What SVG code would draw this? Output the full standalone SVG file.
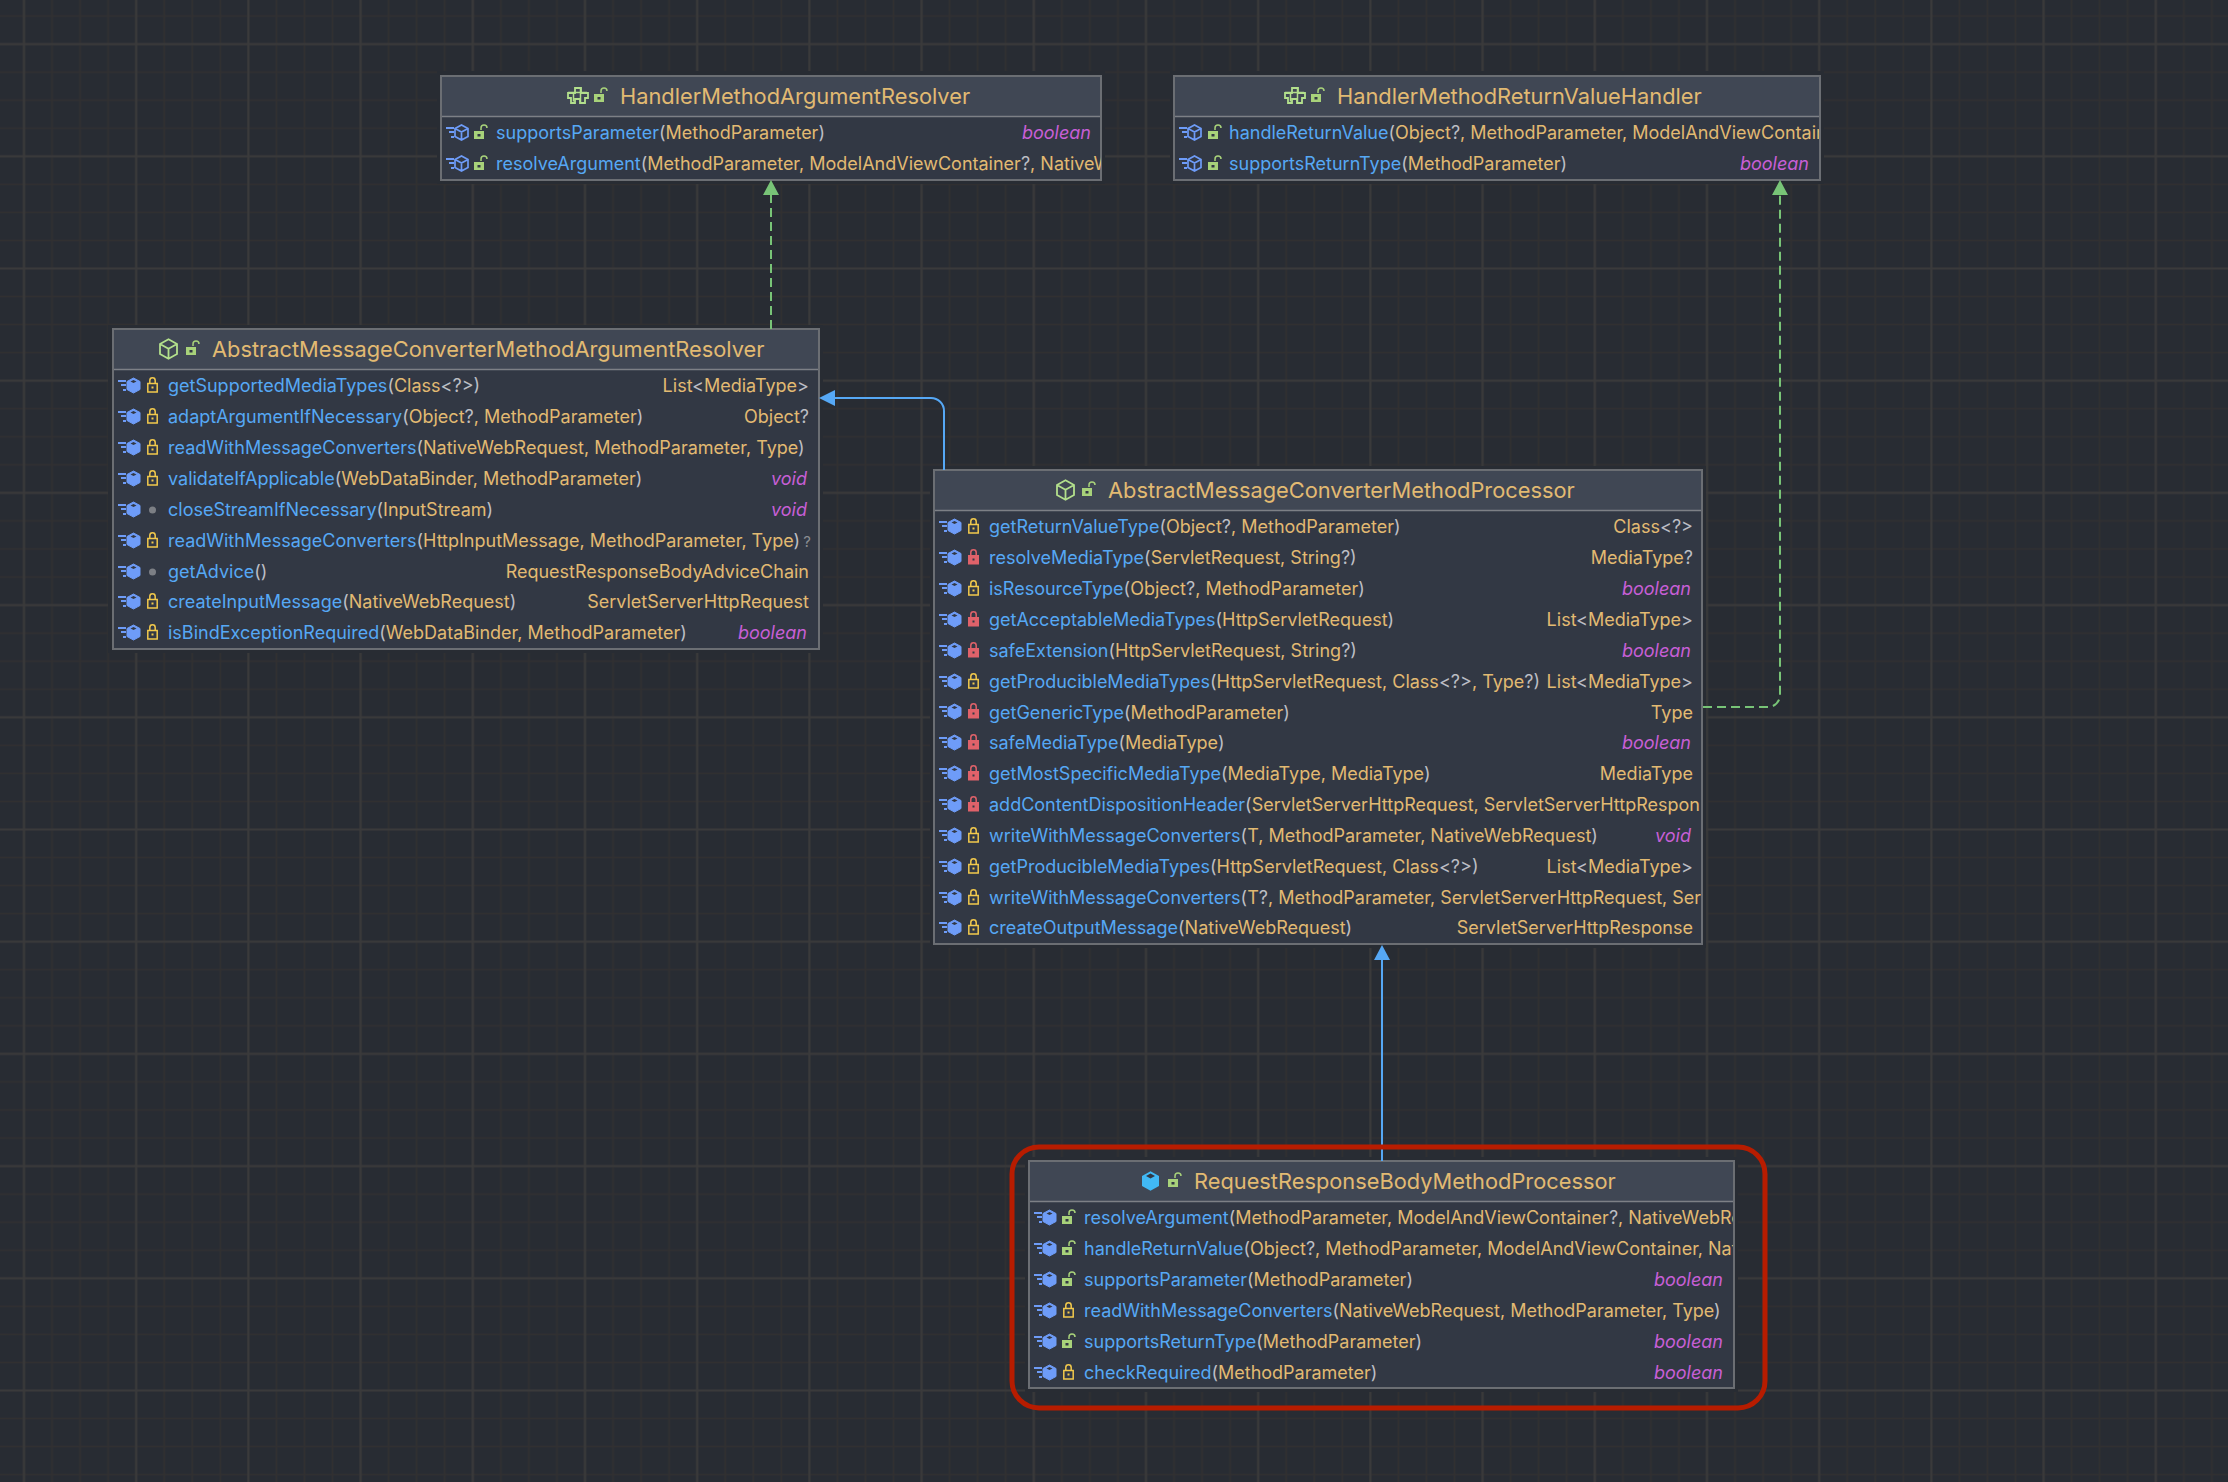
<svg xmlns="http://www.w3.org/2000/svg" width="2228" height="1482" viewBox="0 0 2228 1482">
<style>
text{font-family:Inter,"Noto Sans","Liberation Sans",sans-serif;white-space:pre}
.r{font-size:18px;fill:#e2ba72}
.ti{font-size:21.8px;fill:#e2ba72}
.m{fill:#56a8f5}
.p{fill:#bcbec4}
.e{text-anchor:end}
.b{fill:#c75fd6;font-style:italic}
.hd{fill:#404754}
.bd{fill:#323844}
.ln{fill:none;stroke:#6b6e73;stroke-width:2}
.sp{stroke:#7d8086;stroke-width:1.5}
.halo{fill:#282c33}
.conb{fill:none;stroke:#56a8f5;stroke-width:2}
.cong{fill:none;stroke:#78c477;stroke-width:2;stroke-dasharray:9 5}
</style>
<defs>
<pattern id="minor" width="28.05" height="28.05" patternUnits="userSpaceOnUse" x="10" y="2"><path d="M14 0V28.05M0 14H28.05" stroke="#313031" stroke-width="1.6" fill="none"/></pattern>
<pattern id="major" width="112.2" height="112.2" patternUnits="userSpaceOnUse" x="-32" y="-12"><path d="M56 0V112.2M0 56H112.2" stroke="#3a3a3b" stroke-width="2" fill="none"/></pattern>
<g id="lines"><path d="M0-5h8M3-1h5M5 4h3" stroke="#6e9cf8" stroke-width="2" fill="none"/></g>
<g id="mf"><use href="#lines"/><path d="M9-4.500l6.500-3.500 6.500 3.500v8l-6.500 3.500-6.500-3.500z" fill="#6e9cf8" stroke="#6e9cf8"/><path d="M12.500-4.500l3-1.600 3 1.600-3 1.600z" fill="#323844"/></g>
<g id="mh"><use href="#lines"/><path d="M9-4.500l6.500-3.500 6.500 3.500v8l-6.500 3.500-6.500-3.500zM9-4.500l6.500 3.500 6.500-3.500M15.500-1v8" fill="none" stroke="#6e9cf8" stroke-width="1.700"/></g>
<g id="lo"><rect x="0" y="-2" width="10" height="8" fill="#a8d27a"/><rect x="3.500" y="1" width="3" height="2.500" fill="#323844"/><path d="M7-3v-2a3 3 0 0 1 6 0" fill="none" stroke="#a8d27a" stroke-width="1.500"/></g>
<g id="ly"><rect x="0.800" y="-2.500" width="9.400" height="8.500" fill="none" stroke="#f2c94c" stroke-width="1.500"/><rect x="4.500" y="0.500" width="2" height="2" fill="#f2c94c"/><path d="M2.800-2.500v-3a2.700 2.700 0 0 1 5.400 0v3" fill="none" stroke="#f2c94c" stroke-width="1.500"/></g>
<g id="lr"><rect x="0" y="-3" width="11" height="9.500" fill="#e0626a"/><rect x="4.500" y="0.500" width="2" height="2" fill="#323844"/><path d="M2.800-3v-2.500a2.700 2.700 0 0 1 5.400 0v2.500" fill="none" stroke="#e0626a" stroke-width="1.500"/></g>
<circle id="ld" cx="5.500" cy="0" r="3.500" fill="#7c7f85"/>
<g id="tif"><path d="M7-9h6v5h7v5h-3v5h-5v-4h-5v4h-4v-5h-3v-5h7z" fill="none" stroke="#b3e08c" stroke-width="1.800" transform="translate(1 1)"/><path d="M1-3.500h19M6.500-3.500v9M13.500-8v14" stroke="#b3e08c" stroke-width="1.500" fill="none"/></g>
<g id="tc"><path d="M0-5l8.500-4.800 8.500 4.800v10l-8.500 4.800-8.500-4.800zM0-5l8.500 4.800 8.500-4.800M8.500-.2v10" fill="none" stroke="#b3e08c" stroke-width="1.800"/></g>
<g id="tcf"><path d="M0-5l8.500-4.800 8.500 4.800v10l-8.500 4.800-8.500-4.800z" fill="#41b9f5"/><path d="M4-5l4.500-2.500 4.500 2.500-4.500 2.500z" fill="#323844"/></g>
<clipPath id="c1"><rect x="441" y="117" width="660" height="63"/></clipPath>
<clipPath id="c2"><rect x="1175" y="117" width="644" height="63"/></clipPath>
<clipPath id="c3"><rect x="113" y="370" width="705" height="278"/></clipPath>
<clipPath id="c4"><rect x="935" y="511" width="766" height="432"/></clipPath>
<clipPath id="c5"><rect x="1030" y="1202" width="703" height="185"/></clipPath>
</defs>
<rect width="2228" height="1482" fill="#282c33"/>
<rect width="2228" height="1482" fill="url(#minor)"/>
<rect width="2228" height="1482" fill="url(#major)"/>

<g id="HandlerMethodArgumentResolver">
<rect class="halo" x="437" y="71" width="668" height="113"/>
<rect class="bd" x="441" y="76" width="660" height="104"/>
<rect class="hd" x="441" y="76" width="660" height="40"/>
<path class="sp" d="M441 116.500H1101"/>
<rect class="ln" x="441" y="76" width="660" height="104"/>
<use href="#tif" x="567" y="96"/><use href="#lo" x="594" y="96"/>
<text class="ti" x="620" y="104">HandlerMethodArgumentResolver</text>
<g clip-path="url(#c1)">
<use href="#mh" x="446" y="133"/><use href="#lo" x="474" y="133"/>
<text class="r" x="496" y="139"><tspan class="m">supportsParameter</tspan><tspan class="p">(</tspan>MethodParameter<tspan class="p">)</tspan></text>
<text class="r b e" x="1091" y="139">boolean</text>
<use href="#mh" x="446" y="164"/><use href="#lo" x="474" y="164"/>
<text class="r" x="496" y="170"><tspan class="m">resolveArgument</tspan><tspan class="p">(</tspan>MethodParameter, ModelAndViewContainer<tspan class="p">?</tspan>, NativeW</text>
</g>
</g>

<g id="HandlerMethodReturnValueHandler">
<rect class="halo" x="1170" y="71" width="654" height="113"/>
<rect class="bd" x="1174" y="76" width="646" height="104"/>
<rect class="hd" x="1174" y="76" width="646" height="40"/>
<path class="sp" d="M1174 116.500H1820"/>
<rect class="ln" x="1174" y="76" width="646" height="104"/>
<use href="#tif" x="1284" y="96"/><use href="#lo" x="1311" y="96"/>
<text class="ti" x="1337" y="104">HandlerMethodReturnValueHandler</text>
<g clip-path="url(#c2)">
<use href="#mh" x="1179" y="133"/><use href="#lo" x="1208" y="133"/>
<text class="r" x="1229" y="139"><tspan class="m">handleReturnValue</tspan><tspan class="p">(</tspan>Object<tspan class="p">?</tspan>, MethodParameter, ModelAndViewContain</text>
<use href="#mh" x="1179" y="164"/><use href="#lo" x="1208" y="164"/>
<text class="r" x="1229" y="170"><tspan class="m">supportsReturnType</tspan><tspan class="p">(</tspan>MethodParameter<tspan class="p">)</tspan></text>
<text class="r b e" x="1809" y="170">boolean</text>
</g>
</g>

<g id="AbstractMessageConverterMethodArgumentResolver">
<rect class="halo" x="108" y="325" width="715" height="328"/>
<rect class="bd" x="113" y="329" width="706" height="320"/>
<rect class="hd" x="113" y="329" width="706" height="40"/>
<path class="sp" d="M113 369.500H819"/>
<rect class="ln" x="113" y="329" width="706" height="320"/>
<use href="#tc" x="160" y="349"/><use href="#lo" x="186" y="349"/>
<text class="ti" x="212" y="357">AbstractMessageConverterMethodArgumentResolver</text>
<g clip-path="url(#c3)">
<use href="#mf" x="118" y="386"/><use href="#ly" x="147" y="386"/>
<text class="r" x="168" y="392"><tspan class="m">getSupportedMediaTypes</tspan><tspan class="p">(</tspan>Class<tspan class="p">&lt;?&gt;)</tspan></text>
<text class="r e" x="809" y="392">List<tspan class="p">&lt;</tspan>MediaType<tspan class="p">&gt;</tspan></text>
<use href="#mf" x="118" y="417"/><use href="#ly" x="147" y="417"/>
<text class="r" x="168" y="423"><tspan class="m">adaptArgumentIfNecessary</tspan><tspan class="p">(</tspan>Object<tspan class="p">?</tspan>, MethodParameter<tspan class="p">)</tspan></text>
<text class="r e" x="809" y="423">Object<tspan class="p">?</tspan></text>
<use href="#mf" x="118" y="448"/><use href="#ly" x="147" y="448"/>
<text class="r" x="168" y="454"><tspan class="m">readWithMessageConverters</tspan><tspan class="p">(</tspan>NativeWebRequest, MethodParameter, Type<tspan class="p">)</tspan></text>
<use href="#mf" x="118" y="479"/><use href="#ly" x="147" y="479"/>
<text class="r" x="168" y="485"><tspan class="m">validateIfApplicable</tspan><tspan class="p">(</tspan>WebDataBinder, MethodParameter<tspan class="p">)</tspan></text>
<text class="r b e" x="807" y="485">void</text>
<use href="#mf" x="118" y="510"/><use href="#ld" x="147" y="510"/>
<text class="r" x="168" y="516"><tspan class="m">closeStreamIfNecessary</tspan><tspan class="p">(</tspan>InputStream<tspan class="p">)</tspan></text>
<text class="r b e" x="807" y="516">void</text>
<use href="#mf" x="118" y="541"/><use href="#ly" x="147" y="541"/>
<text class="r" x="168" y="547"><tspan class="m">readWithMessageConverters</tspan><tspan class="p">(</tspan>HttpInputMessage, MethodParameter, Type<tspan class="p">)</tspan></text>
<text class="r e p" x="811" y="547" style="fill:#8a8d92;font-size:15px">?</text>
<use href="#mf" x="118" y="572"/><use href="#ld" x="147" y="572"/>
<text class="r" x="168" y="578"><tspan class="m">getAdvice</tspan><tspan class="p">()</tspan></text>
<text class="r e" x="809" y="578">RequestResponseBodyAdviceChain</text>
<use href="#mf" x="118" y="602"/><use href="#ly" x="147" y="602"/>
<text class="r" x="168" y="608"><tspan class="m">createInputMessage</tspan><tspan class="p">(</tspan>NativeWebRequest<tspan class="p">)</tspan></text>
<text class="r e" x="809" y="608">ServletServerHttpRequest</text>
<use href="#mf" x="118" y="633"/><use href="#ly" x="147" y="633"/>
<text class="r" x="168" y="639"><tspan class="m">isBindExceptionRequired</tspan><tspan class="p">(</tspan>WebDataBinder, MethodParameter<tspan class="p">)</tspan></text>
<text class="r b e" x="807" y="639">boolean</text>
</g>
</g>

<g id="AbstractMessageConverterMethodProcessor">
<rect class="halo" x="930" y="466" width="776" height="482"/>
<rect class="bd" x="934" y="470" width="768" height="474"/>
<rect class="hd" x="934" y="470" width="768" height="40"/>
<path class="sp" d="M934 510.500H1702"/>
<rect class="ln" x="934" y="470" width="768" height="474"/>
<use href="#tc" x="1057" y="490"/><use href="#lo" x="1082" y="490"/>
<text class="ti" x="1108" y="498">AbstractMessageConverterMethodProcessor</text>
<g clip-path="url(#c4)">
<use href="#mf" x="939" y="527"/><use href="#ly" x="968" y="527"/>
<text class="r" x="989" y="533"><tspan class="m">getReturnValueType</tspan><tspan class="p">(</tspan>Object<tspan class="p">?</tspan>, MethodParameter<tspan class="p">)</tspan></text>
<text class="r e" x="1693" y="533">Class<tspan class="p">&lt;?&gt;</tspan></text>
<use href="#mf" x="939" y="558"/><use href="#lr" x="968" y="558"/>
<text class="r" x="989" y="564"><tspan class="m">resolveMediaType</tspan><tspan class="p">(</tspan>ServletRequest, String<tspan class="p">?)</tspan></text>
<text class="r e" x="1693" y="564">MediaType<tspan class="p">?</tspan></text>
<use href="#mf" x="939" y="589"/><use href="#ly" x="968" y="589"/>
<text class="r" x="989" y="595"><tspan class="m">isResourceType</tspan><tspan class="p">(</tspan>Object<tspan class="p">?</tspan>, MethodParameter<tspan class="p">)</tspan></text>
<text class="r b e" x="1691" y="595">boolean</text>
<use href="#mf" x="939" y="620"/><use href="#lr" x="968" y="620"/>
<text class="r" x="989" y="626"><tspan class="m">getAcceptableMediaTypes</tspan><tspan class="p">(</tspan>HttpServletRequest<tspan class="p">)</tspan></text>
<text class="r e" x="1693" y="626">List<tspan class="p">&lt;</tspan>MediaType<tspan class="p">&gt;</tspan></text>
<use href="#mf" x="939" y="651"/><use href="#lr" x="968" y="651"/>
<text class="r" x="989" y="657"><tspan class="m">safeExtension</tspan><tspan class="p">(</tspan>HttpServletRequest, String<tspan class="p">?)</tspan></text>
<text class="r b e" x="1691" y="657">boolean</text>
<use href="#mf" x="939" y="682"/><use href="#ly" x="968" y="682"/>
<text class="r" x="989" y="688"><tspan class="m">getProducibleMediaTypes</tspan><tspan class="p">(</tspan>HttpServletRequest, Class<tspan class="p">&lt;?&gt;</tspan>, Type<tspan class="p">?)</tspan></text>
<text class="r e" x="1693" y="688">List<tspan class="p">&lt;</tspan>MediaType<tspan class="p">&gt;</tspan></text>
<use href="#mf" x="939" y="712"/><use href="#lr" x="968" y="712"/>
<text class="r" x="989" y="718.500"><tspan class="m">getGenericType</tspan><tspan class="p">(</tspan>MethodParameter<tspan class="p">)</tspan></text>
<text class="r e" x="1693" y="718.500">Type</text>
<use href="#mf" x="939" y="743"/><use href="#lr" x="968" y="743"/>
<text class="r" x="989" y="749"><tspan class="m">safeMediaType</tspan><tspan class="p">(</tspan>MediaType<tspan class="p">)</tspan></text>
<text class="r b e" x="1691" y="749">boolean</text>
<use href="#mf" x="939" y="774"/><use href="#lr" x="968" y="774"/>
<text class="r" x="989" y="780"><tspan class="m">getMostSpecificMediaType</tspan><tspan class="p">(</tspan>MediaType, MediaType<tspan class="p">)</tspan></text>
<text class="r e" x="1693" y="780">MediaType</text>
<use href="#mf" x="939" y="805"/><use href="#lr" x="968" y="805"/>
<text class="r" x="989" y="811"><tspan class="m">addContentDispositionHeader</tspan><tspan class="p">(</tspan>ServletServerHttpRequest, ServletServerHttpRespon</text>
<use href="#mf" x="939" y="836"/><use href="#ly" x="968" y="836"/>
<text class="r" x="989" y="842"><tspan class="m">writeWithMessageConverters</tspan><tspan class="p">(</tspan>T, MethodParameter, NativeWebRequest<tspan class="p">)</tspan></text>
<text class="r b e" x="1691" y="842">void</text>
<use href="#mf" x="939" y="867"/><use href="#ly" x="968" y="867"/>
<text class="r" x="989" y="873"><tspan class="m">getProducibleMediaTypes</tspan><tspan class="p">(</tspan>HttpServletRequest, Class<tspan class="p">&lt;?&gt;)</tspan></text>
<text class="r e" x="1693" y="873">List<tspan class="p">&lt;</tspan>MediaType<tspan class="p">&gt;</tspan></text>
<use href="#mf" x="939" y="898"/><use href="#ly" x="968" y="898"/>
<text class="r" x="989" y="904"><tspan class="m">writeWithMessageConverters</tspan><tspan class="p">(</tspan>T<tspan class="p">?</tspan>, MethodParameter, ServletServerHttpRequest, Ser</text>
<use href="#mf" x="939" y="928"/><use href="#ly" x="968" y="928"/>
<text class="r" x="989" y="934"><tspan class="m">createOutputMessage</tspan><tspan class="p">(</tspan>NativeWebRequest<tspan class="p">)</tspan></text>
<text class="r e" x="1693" y="934">ServletServerHttpResponse</text>
</g>
</g>

<g id="RequestResponseBodyMethodProcessor">
<rect class="halo" x="1025" y="1157" width="713" height="235"/>
<rect class="bd" x="1029" y="1161" width="705" height="227"/>
<rect class="hd" x="1029" y="1161" width="705" height="40"/>
<path class="sp" d="M1029 1201.500H1734"/>
<rect class="ln" x="1029" y="1161" width="705" height="227"/>
<use href="#tcf" x="1142" y="1181"/><use href="#lo" x="1168" y="1181"/>
<text class="ti" x="1194" y="1189">RequestResponseBodyMethodProcessor</text>
<g clip-path="url(#c5)">
<use href="#mf" x="1034" y="1218"/><use href="#lo" x="1062" y="1218"/>
<text class="r" x="1084" y="1224"><tspan class="m">resolveArgument</tspan><tspan class="p">(</tspan>MethodParameter, ModelAndViewContainer<tspan class="p">?</tspan>, NativeWebRe</text>
<use href="#mf" x="1034" y="1249"/><use href="#lo" x="1062" y="1249"/>
<text class="r" x="1084" y="1255"><tspan class="m">handleReturnValue</tspan><tspan class="p">(</tspan>Object<tspan class="p">?</tspan>, MethodParameter, ModelAndViewContainer, Nat</text>
<use href="#mf" x="1034" y="1280"/><use href="#lo" x="1062" y="1280"/>
<text class="r" x="1084" y="1286"><tspan class="m">supportsParameter</tspan><tspan class="p">(</tspan>MethodParameter<tspan class="p">)</tspan></text>
<text class="r b e" x="1723" y="1286">boolean</text>
<use href="#mf" x="1034" y="1311"/><use href="#ly" x="1063" y="1311"/>
<text class="r" x="1084" y="1317"><tspan class="m">readWithMessageConverters</tspan><tspan class="p">(</tspan>NativeWebRequest, MethodParameter, Type<tspan class="p">)</tspan></text>
<use href="#mf" x="1034" y="1342"/><use href="#lo" x="1062" y="1342"/>
<text class="r" x="1084" y="1348"><tspan class="m">supportsReturnType</tspan><tspan class="p">(</tspan>MethodParameter<tspan class="p">)</tspan></text>
<text class="r b e" x="1723" y="1348">boolean</text>
<use href="#mf" x="1034" y="1373"/><use href="#ly" x="1063" y="1373"/>
<text class="r" x="1084" y="1379"><tspan class="m">checkRequired</tspan><tspan class="p">(</tspan>MethodParameter<tspan class="p">)</tspan></text>
<text class="r b e" x="1723" y="1379">boolean</text>
</g>
</g>

<g id="connectors">
<path class="cong" d="M771 329V190"/>
<path d="M771 180l8 15h-16z" fill="#78c477"/>
<path class="cong" d="M1703 707H1768a12 12 0 0 0 12-12V190"/>
<path d="M1780 180l8 15h-16z" fill="#78c477"/>
<path class="conb" d="M944 470V411a13 13 0 0 0-13-13H830"/>
<path d="M819 398l16-8v16z" fill="#56a8f5"/>
<path class="conb" d="M1382 1161V955"/>
<path d="M1382 945l8 15h-16z" fill="#56a8f5"/>
</g>

<rect id="highlight" x="1012" y="1147" width="753" height="261" rx="27" fill="none" stroke="#b71c00" stroke-width="5"/>
</svg>
